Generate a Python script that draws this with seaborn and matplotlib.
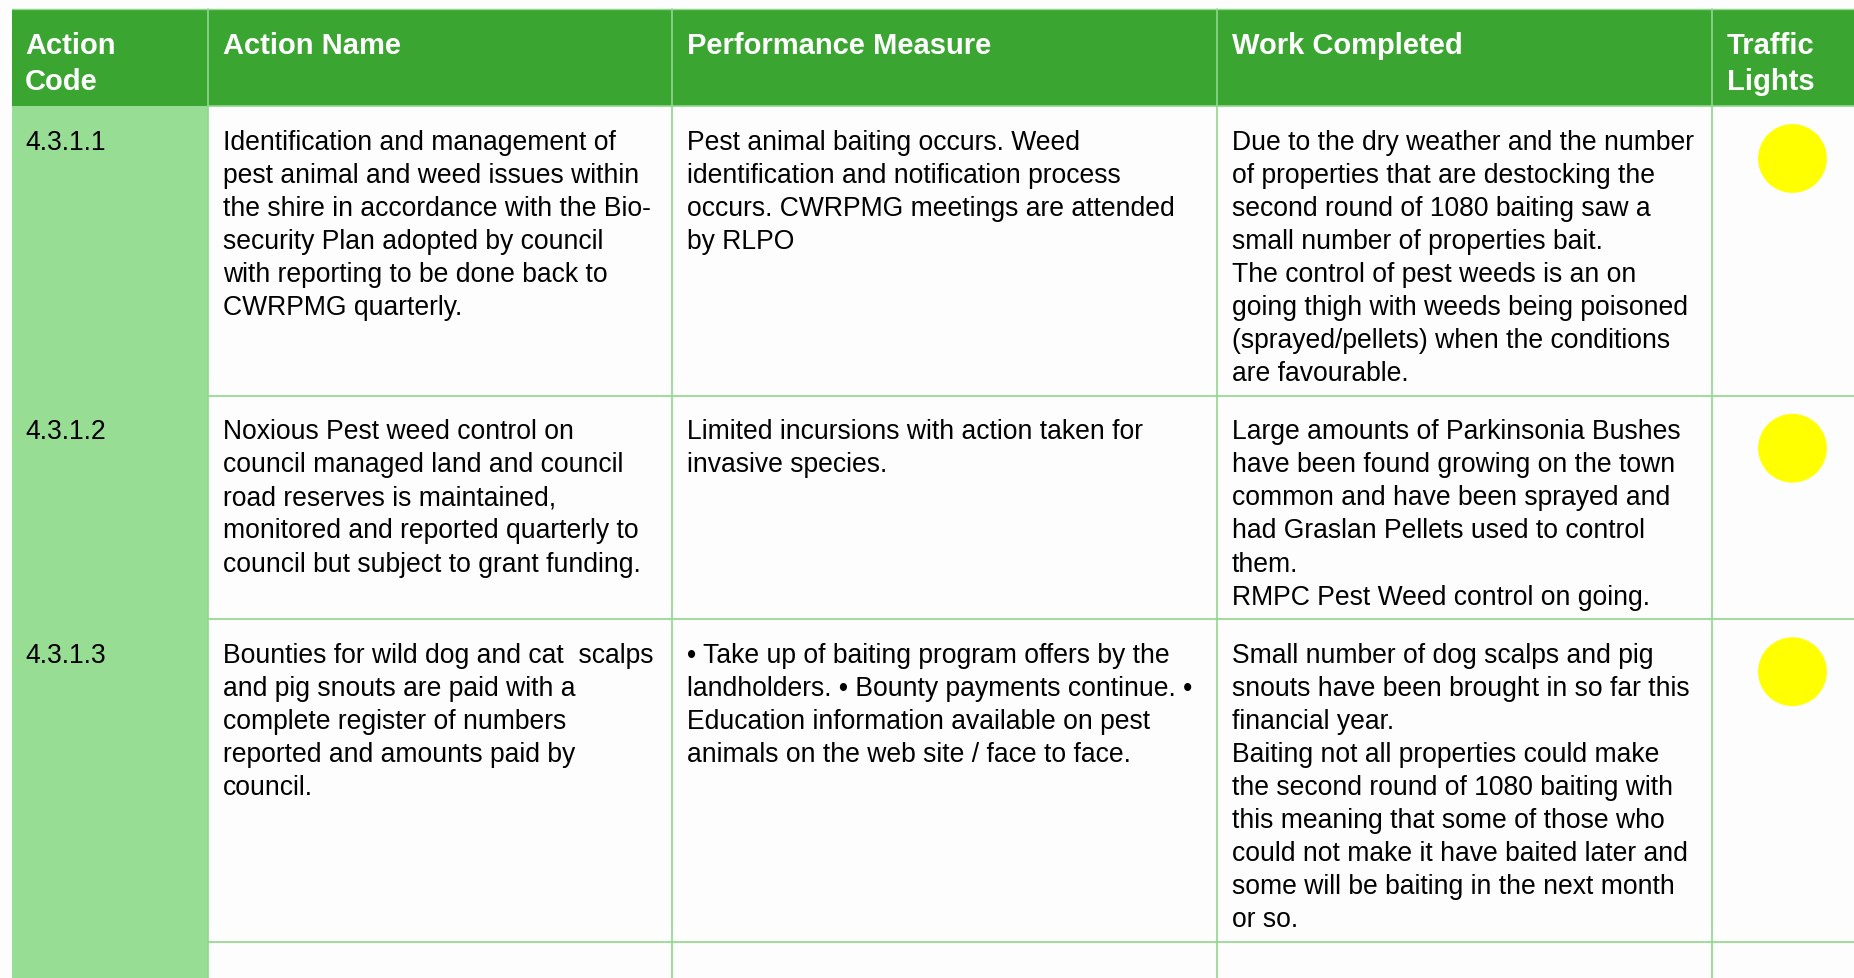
import matplotlib
matplotlib.use("Agg")
import matplotlib.pyplot as plt
import matplotlib.patches as patches
import seaborn as sns
import pandas as pd

# table contents
headers = ["Action\nCode", "Action Name", "Performance Measure", "Work Completed", "Traffic\nLights"]

action_codes = ["4.3.1.1", "4.3.1.2", "4.3.1.3"]

action_names = [
    "Identification and management of\npest animal and weed issues within\nthe shire in accordance with the Bio-\n"
    "security Plan adopted by council\nwith reporting to be done back to\nCWRPMG quarterly.",
    "Noxious Pest weed control on\ncouncil managed land and council\nroad reserves is maintained,\n"
    "monitored and reported quarterly to\ncouncil but subject to grant funding.",
    "Bounties for wild dog and cat  scalps\nand pig snouts are paid with a\ncomplete register of numbers\n"
    "reported and amounts paid by\ncouncil.",
]

performance_measures = [
    "Pest animal baiting occurs. Weed\nidentification and notification process\n"
    "occurs. CWRPMG meetings are attended\nby RLPO",
    "Limited incursions with action taken for\ninvasive species.",
    "\u2022 Take up of baiting program offers by the\nlandholders. \u2022 Bounty payments continue. \u2022\n"
    "Education information available on pest\nanimals on the web site / face to face.",
]

work_completed = [
    "Due to the dry weather and the number\nof properties that are destocking the\nsecond round of 1080 baiting saw a\n"
    "small number of properties bait.\nThe control of pest weeds is an on\ngoing thigh with weeds being poisoned\n"
    "(sprayed/pellets) when the conditions\nare favourable.",
    "Large amounts of Parkinsonia Bushes\nhave been found growing on the town\ncommon and have been sprayed and\n"
    "had Graslan Pellets used to control\nthem.\nRMPC Pest Weed control on going.",
    "Small number of dog scalps and pig\nsnouts have been brought in so far this\nfinancial year.\n"
    "Baiting not all properties could make\nthe second round of 1080 baiting with\nthis meaning that some of those who\n"
    "could not make it have baited later and\nsome will be baiting in the next month\nor so.",
]

traffic_lights = ["yellow", "yellow", "yellow"]

# colours
HEADER_GREEN = "#3ba532"
CODE_GREEN = "#97dd93"
GRID_GREEN = "#8fd88c"
LIGHT_COLOURS = {"yellow": "#ffff00", "amber": "#ffc000", "red": "#ff0000", "green": "#00b050"}

# layout in pixels
W, H = 1854, 979
COL_EDGES = [12, 208, 672, 1217, 1712, 1873]
HEADER_TOP, HEADER_BOTTOM = 10, 107
LINE_H = 33.1
PAD_TOP = 35.5
PAD_BOTTOM = 22.5
TEXT_PAD = [13, 15, 15, 15, 15]


def draw_lines(ax, x, y0, text, step, **kw):
    # one text per line so the spacing matches the reference
    for i, line in enumerate(text.split("\n")):
        ax.text(x, y0 + i * step, line, va="center", ha="left", **kw)


def main():
    sns.set_theme(style="white")
    plt.rcParams["font.family"] = ["Liberation Sans", "DejaVu Sans"]

    fig = plt.figure(figsize=(W / 100, H / 100), dpi=100)
    ax = fig.add_axes([0, 0, 1, 1])
    fig.patch.set_facecolor("#fdfdfd")

    # work out row heights from the number of lines in each row
    cells = list(zip(action_codes, action_names, performance_measures, work_completed))
    row_tops = []
    y = HEADER_BOTTOM
    for row in cells:
        n = max(c.count("\n") + 1 for c in row)
        row_tops.append(y)
        y += PAD_TOP + (n - 1) * LINE_H + PAD_BOTTOM
    row_tops.append(y)

    # action code column and header band
    ax.add_patch(patches.Rectangle((COL_EDGES[0], HEADER_BOTTOM), COL_EDGES[1] - COL_EDGES[0],
                                   H - HEADER_BOTTOM, color=CODE_GREEN, lw=0))
    ax.add_patch(patches.Rectangle((COL_EDGES[0], HEADER_TOP), COL_EDGES[-1] - COL_EDGES[0],
                                   HEADER_BOTTOM - HEADER_TOP, facecolor=HEADER_GREEN, lw=0))
    ax.plot([COL_EDGES[0], W], [HEADER_TOP, HEADER_TOP], color=GRID_GREEN, lw=1)

    # grid lines
    for xe in COL_EDGES[1:-1]:
        ax.plot([xe, xe], [HEADER_TOP, H], color=GRID_GREEN, lw=1.2)
    for yt in row_tops:
        ax.plot([COL_EDGES[1], W], [yt, yt], color=GRID_GREEN, lw=1.2)

    # header text
    for i, h in enumerate(headers):
        draw_lines(ax, COL_EDGES[i] + TEXT_PAD[i], 46.5, h, 35.5, color="white",
                   fontsize=21, fontweight="bold")

    # body text
    for r, row in enumerate(cells):
        for c, txt in enumerate(row):
            draw_lines(ax, COL_EDGES[c] + TEXT_PAD[c], row_tops[r] + PAD_TOP, txt, LINE_H,
                       color="black", fontsize=19.1)

    # traffic lights
    lights = pd.DataFrame({
        "x": [(COL_EDGES[4] + COL_EDGES[5]) / 2] * len(traffic_lights),
        "y": [t + 52.5 for t in row_tops[:-1]],
        "status": traffic_lights,
    })
    sns.scatterplot(data=lights, x="x", y="y", hue="status", palette=LIGHT_COLOURS,
                    s=2450, linewidth=0, legend=False, ax=ax, zorder=5)
    ax.set_xlim(0, W)
    ax.set_ylim(H, 0)
    ax.axis("off")

    fig.savefig("out.png", dpi=100, facecolor=fig.get_facecolor())


if __name__ == "__main__":
    main()
